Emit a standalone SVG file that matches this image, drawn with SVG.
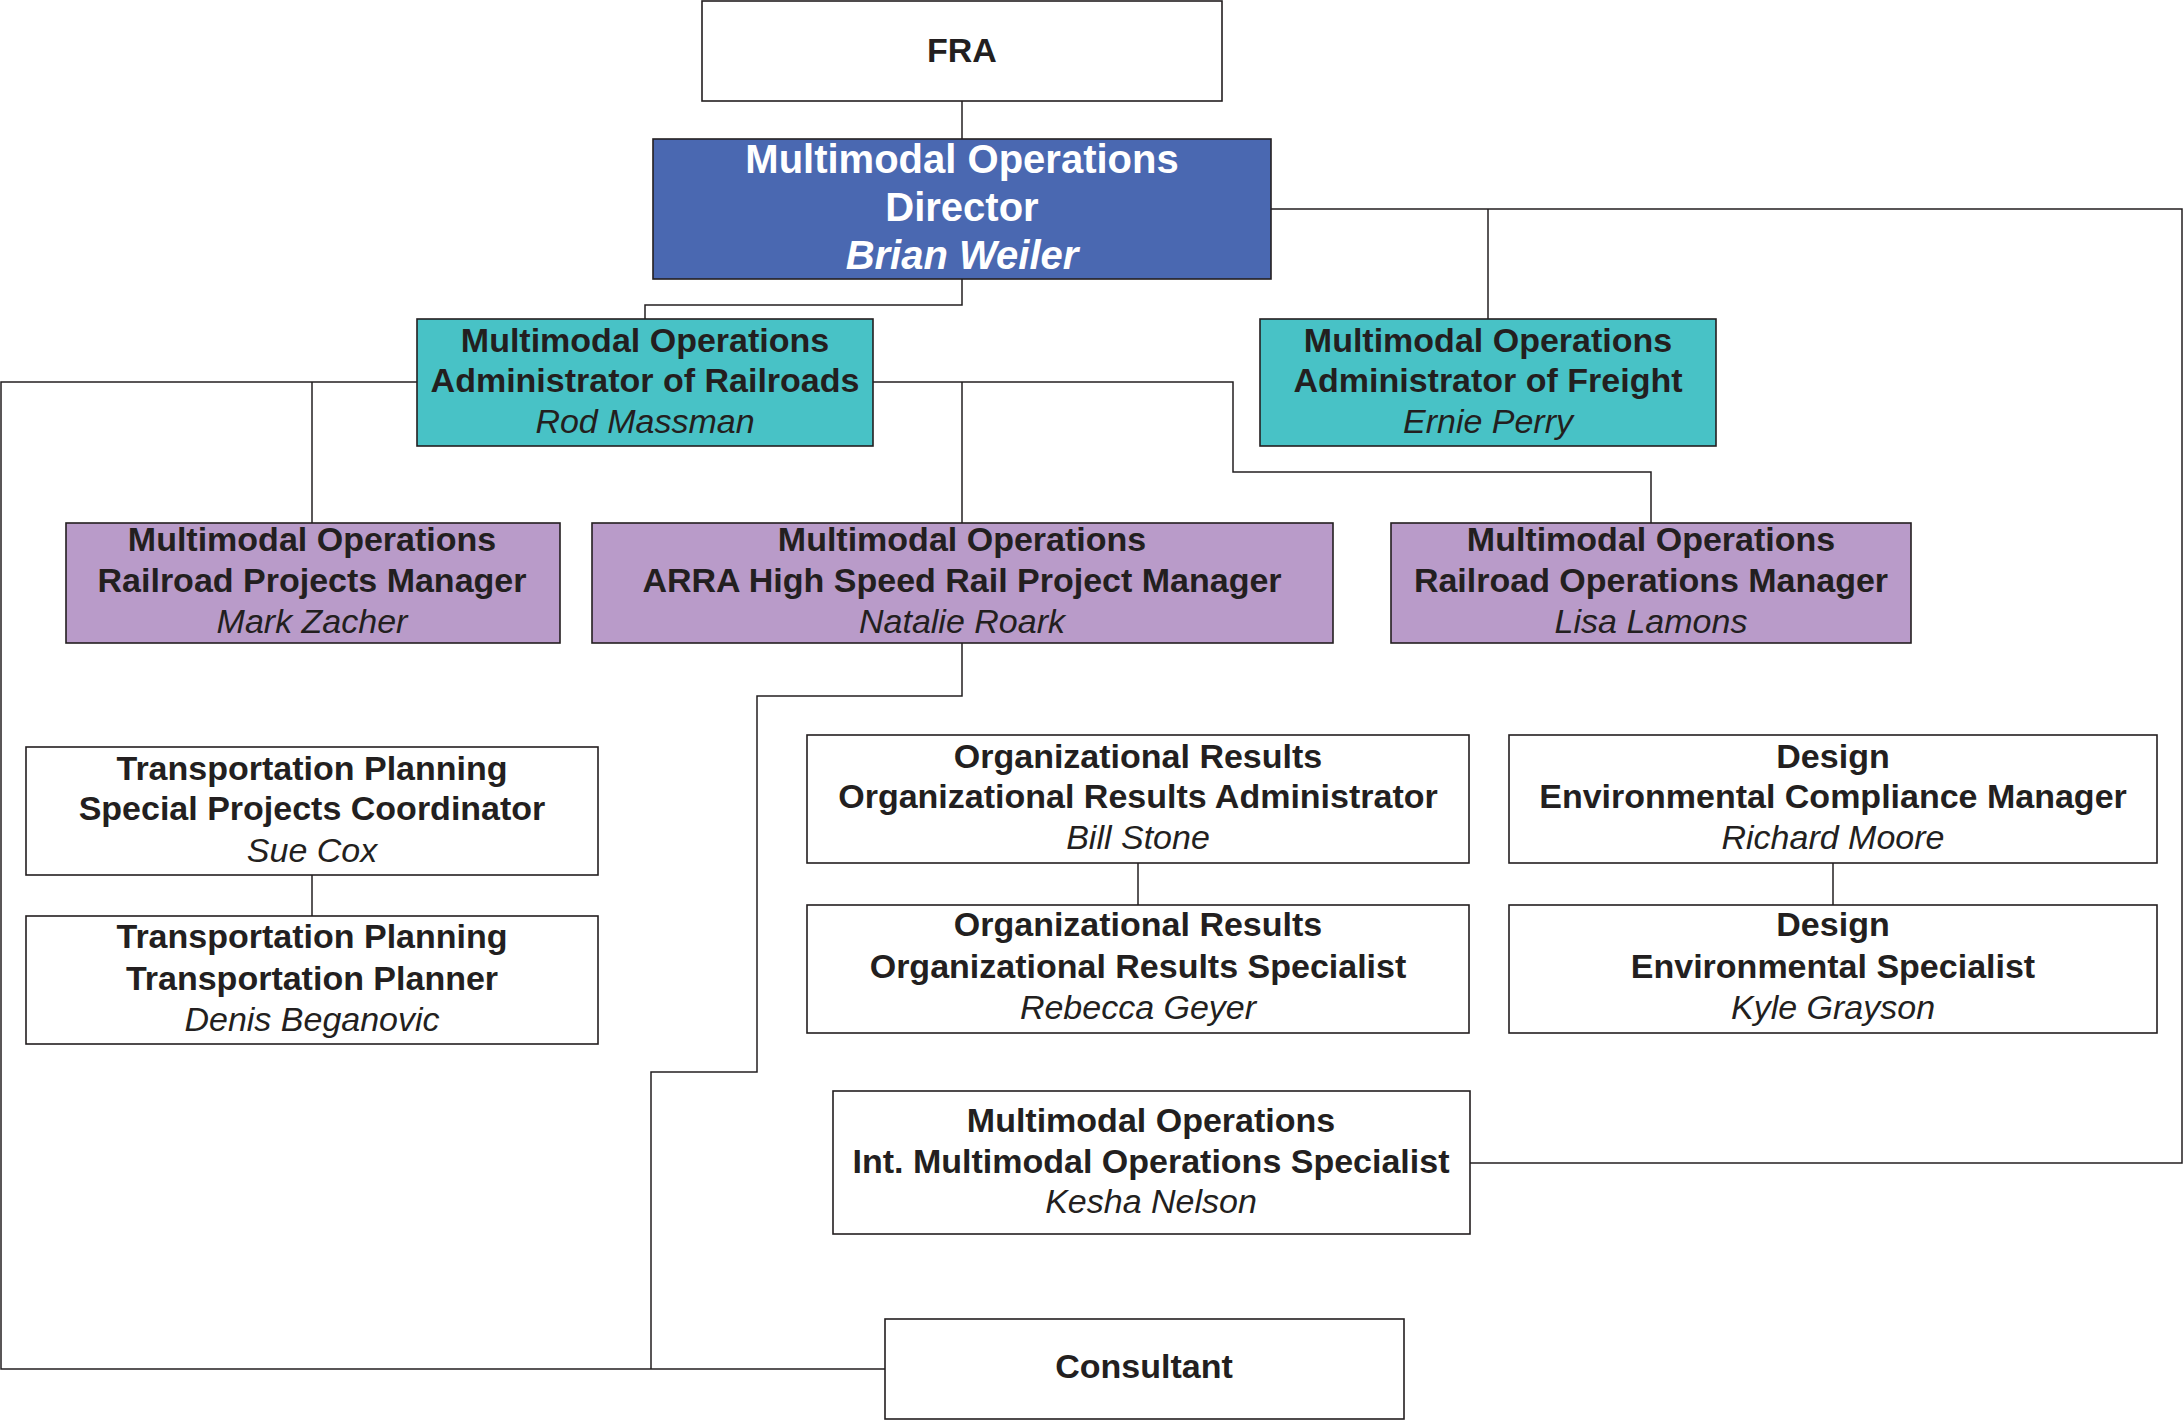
<svg xmlns="http://www.w3.org/2000/svg" width="2184" height="1420" viewBox="0 0 2184 1420">
<style>
.box{fill:#ffffff;stroke:#231f20;stroke-width:1.6}
.blue{fill:#4a68b1}
.teal{fill:#48c2c6}
.purple{fill:#b99bc9}
.t{font-family:"Liberation Sans",Arial,sans-serif;font-size:34px;fill:#231f20;text-anchor:middle}
.b{font-weight:bold}
.i{font-style:italic}
.w{fill:#ffffff;font-size:40px}
.con{fill:none;stroke:#231f20;stroke-width:1.5}
</style>
<rect width="2184" height="1420" fill="#ffffff"/>
<g id="connectors">
<path class="con" d="M962,101 V139"/>
<path class="con" d="M962,279 V305 H645 V319"/>
<path class="con" d="M1271,209 H2182 V1163 H1470"/>
<path class="con" d="M1488,209 V319"/>
<path class="con" d="M417,382 H1 V1369 H885"/>
<path class="con" d="M312,382 V523"/>
<path class="con" d="M873,382 H1233 V472 H1651 V523"/>
<path class="con" d="M962,382 V523"/>
<path class="con" d="M962,643 V696 H757 V1072 H651 V1369"/>
<path class="con" d="M312,875 V916"/>
<path class="con" d="M1138,863 V905"/>
<path class="con" d="M1833,863 V905"/>
</g>
<g id="fra">
<rect class="box" x="702" y="1" width="520" height="100"/>
<text class="t b" x="962" y="62">FRA</text>
</g>
<g id="director">
<rect class="box blue" x="653" y="139" width="618" height="140"/>
<text class="t b w" x="962" y="173">Multimodal Operations</text>
<text class="t b w" x="962" y="221">Director</text>
<text class="t b i w" x="962" y="269">Brian Weiler</text>
</g>
<g id="admin-railroads">
<rect class="box teal" x="417" y="319" width="456" height="127"/>
<text class="t b" x="645" y="352">Multimodal Operations</text>
<text class="t b" x="645" y="392">Administrator of Railroads</text>
<text class="t i" x="645" y="433">Rod Massman</text>
</g>
<g id="admin-freight">
<rect class="box teal" x="1260" y="319" width="456" height="127"/>
<text class="t b" x="1488" y="352">Multimodal Operations</text>
<text class="t b" x="1488" y="392">Administrator of Freight</text>
<text class="t i" x="1488" y="433">Ernie Perry</text>
</g>
<g id="railroad-projects-manager">
<rect class="box purple" x="66" y="523" width="494" height="120"/>
<text class="t b" x="312" y="551">Multimodal Operations</text>
<text class="t b" x="312" y="592">Railroad Projects Manager</text>
<text class="t i" x="312" y="633">Mark Zacher</text>
</g>
<g id="arra-manager">
<rect class="box purple" x="592" y="523" width="741" height="120"/>
<text class="t b" x="962" y="551">Multimodal Operations</text>
<text class="t b" x="962" y="592">ARRA High Speed Rail Project Manager</text>
<text class="t i" x="962" y="633">Natalie Roark</text>
</g>
<g id="railroad-operations-manager">
<rect class="box purple" x="1391" y="523" width="520" height="120"/>
<text class="t b" x="1651" y="551">Multimodal Operations</text>
<text class="t b" x="1651" y="592">Railroad Operations Manager</text>
<text class="t i" x="1651" y="633">Lisa Lamons</text>
</g>
<g id="special-projects-coordinator">
<rect class="box" x="26" y="747" width="572" height="128"/>
<text class="t b" x="312" y="780">Transportation Planning</text>
<text class="t b" x="312" y="820">Special Projects Coordinator</text>
<text class="t i" x="312" y="862">Sue Cox</text>
</g>
<g id="transportation-planner">
<rect class="box" x="26" y="916" width="572" height="128"/>
<text class="t b" x="312" y="948">Transportation Planning</text>
<text class="t b" x="312" y="990">Transportation Planner</text>
<text class="t i" x="312" y="1031">Denis Beganovic</text>
</g>
<g id="org-results-administrator">
<rect class="box" x="807" y="735" width="662" height="128"/>
<text class="t b" x="1138" y="768">Organizational Results</text>
<text class="t b" x="1138" y="808">Organizational Results Administrator</text>
<text class="t i" x="1138" y="849">Bill Stone</text>
</g>
<g id="org-results-specialist">
<rect class="box" x="807" y="905" width="662" height="128"/>
<text class="t b" x="1138" y="936">Organizational Results</text>
<text class="t b" x="1138" y="978">Organizational Results Specialist</text>
<text class="t i" x="1138" y="1019">Rebecca Geyer</text>
</g>
<g id="env-compliance-manager">
<rect class="box" x="1509" y="735" width="648" height="128"/>
<text class="t b" x="1833" y="768">Design</text>
<text class="t b" x="1833" y="808">Environmental Compliance Manager</text>
<text class="t i" x="1833" y="849">Richard Moore</text>
</g>
<g id="env-specialist">
<rect class="box" x="1509" y="905" width="648" height="128"/>
<text class="t b" x="1833" y="936">Design</text>
<text class="t b" x="1833" y="978">Environmental Specialist</text>
<text class="t i" x="1833" y="1019">Kyle Grayson</text>
</g>
<g id="int-multimodal-specialist">
<rect class="box" x="833" y="1091" width="637" height="143"/>
<text class="t b" x="1151" y="1132">Multimodal Operations</text>
<text class="t b" x="1151" y="1173">Int. Multimodal Operations Specialist</text>
<text class="t i" x="1151" y="1213">Kesha Nelson</text>
</g>
<g id="consultant">
<rect class="box" x="885" y="1319" width="519" height="100"/>
<text class="t b" x="1144" y="1378">Consultant</text>
</g>
</svg>
